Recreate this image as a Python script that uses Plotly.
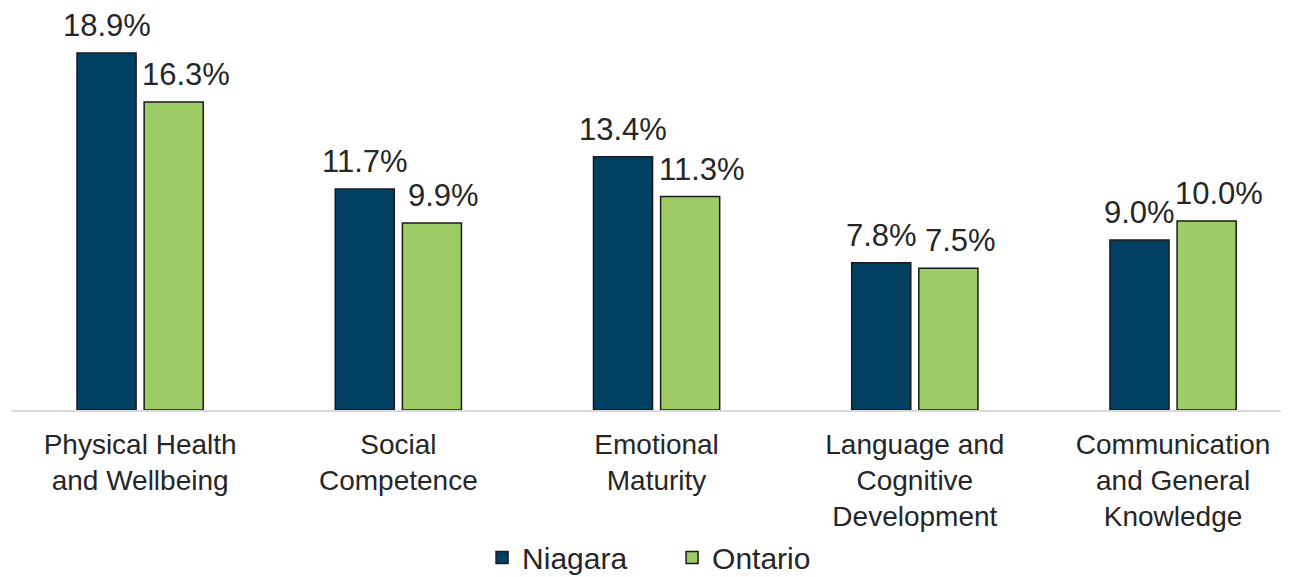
import plotly.graph_objects as go

CATEGORIES = [
    "Physical Health<br>and Wellbeing",
    "Social<br>Competence",
    "Emotional<br>Maturity",
    "Language and<br>Cognitive<br>Development",
    "Communication<br>and General<br>Knowledge",
]
NIAGARA = [18.9, 11.7, 13.4, 7.8, 9.0]
ONTARIO = [16.3, 9.9, 11.3, 7.5, 10.0]

SERIES_COLORS = {"Niagara": "#013F63", "Ontario": "#9DCC66"}
TEXT_COLOR = "#262626"
FONT = "Arial, Liberation Sans, sans-serif"

fig = go.Figure()
# Ontario labels are nudged right a little, like in the source chart
for offset, (name, values) in zip((-33.5, 45.5), (("Niagara", NIAGARA), ("Ontario", ONTARIO))):
    fig.add_bar(
        x=CATEGORIES,
        y=values,
        name=name,
        marker={"color": SERIES_COLORS[name], "line": {"color": "#1a1a1a", "width": 1.5}},
    )
    for cat, v in zip(CATEGORIES, values):
        fig.add_annotation(
            x=cat,
            y=v,
            xref="x",
            yref="y",
            text=f"{v:.1f}%",
            showarrow=False,
            xshift=offset,
            yshift=8,
            yanchor="bottom",
            font={"size": 31, "color": TEXT_COLOR, "family": FONT},
        )

fig.update_layout(
    barmode="group",
    bargap=0.48,
    bargroupgap=0.12,
    width=1289,
    height=577,
    margin={"l": 3, "r": 0, "t": 0, "b": 175, "autoexpand": False},
    paper_bgcolor="white",
    plot_bgcolor="white",
    font={"family": FONT, "color": TEXT_COLOR, "size": 28},
    showlegend=True,
    legend={
        "orientation": "h",
        "x": 0.3663,
        "xanchor": "left",
        "y": -0.367,
        "yanchor": "middle",
        "font": {"size": 30, "color": TEXT_COLOR},
        "entrywidth": 145,
        "tracegroupgap": 0,
    },
    xaxis={
        "range": [-0.5, 4.48],
        "showline": True,
        "linecolor": "#d9d9d9",
        "linewidth": 2,
        "showgrid": False,
        "ticks": "",
        "tickfont": {"size": 28, "color": TEXT_COLOR},
        "ticklabelstandoff": 8,
    },
    yaxis={
        "range": [0, 21.28],
        "visible": False,
        "showgrid": False,
        "zeroline": False,
    },
)

fig.write_html("out.html")
